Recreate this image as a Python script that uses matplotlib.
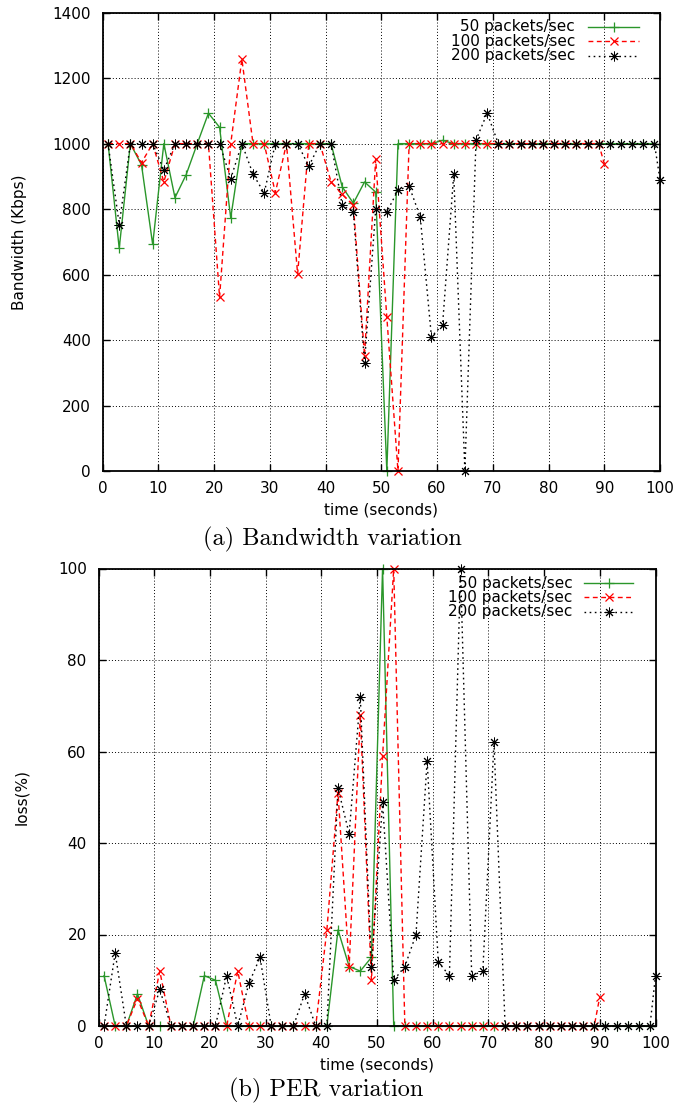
import matplotlib
matplotlib.use("Agg")
import matplotlib.pyplot as plt
from matplotlib.lines import Line2D

# ---------------- data ----------------
t_odd = list(range(1, 100, 2))            # 1,3,...,99
t_red = list(range(1, 90, 2)) + [90]      # 1,3,...,89,90
t_blk = list(range(1, 100, 2)) + [100]    # 1,3,...,99,100

labels = ["50 packets/sec", "100 packets/sec", "200 packets/sec"]

# Bandwidth (Kbps)
bw_50 = [1000, 680, 1000, 935, 692, 1000, 835, 905, 1000, 1093,
         1050, 773, 1000, 1000, 1000, 1000, 1000, 1000, 1000, 1000,
         1000, 868, 818, 883, 852, 0, 1000, 1000, 1000, 1000,
         1010, 1000, 1000, 1000, 1000, 1000, 1000, 1000, 1000, 1000,
         1000, 1000, 1000, 1000, 1000, 1000, 1000, 1000, 1000, 1000]
bw_100 = [1000, 1000, 1000, 942, 1000, 883, 1000, 1000, 1000, 1000,
          531, 1000, 1258, 1000, 1000, 850, 1000, 602, 1000, 1000,
          883, 845, 812, 352, 952, 470, 0, 1000, 1000, 1000,
          1000, 1000, 1000, 1000, 1000, 1000, 1000, 1000, 1000, 1000,
          1000, 1000, 1000, 1000, 1000, 939]
bw_200 = [1000, 753, 1000, 1000, 1000, 919, 1000, 1000, 1000, 1000,
          1000, 893, 1000, 907, 849, 1000, 1000, 1000, 931, 1000,
          1000, 812, 791, 330, 799, 791, 858, 870, 776, 410,
          447, 907, 0, 1011, 1093, 1000, 1000, 1000, 1000, 1000,
          1000, 1000, 1000, 1000, 1000, 1000, 1000, 1000, 1000, 1000, 890]

# Packet error rate (%)
per_50 = [11, 0, 0, 7, 0, 0, 0, 0, 0, 11,
          10, 0, 0, 0, 0, 0, 0, 0, 0, 0,
          0, 21, 13, 12, 15, 100, 0, 0, 0, 0,
          0, 0, 0, 0, 0, 0, 0, 0, 0, 0,
          0, 0, 0, 0, 0, 0, 0, 0, 0, 0]
per_100 = [0, 0, 0, 6, 0, 12, 0, 0, 0, 0,
           0, 0, 12, 0, 0, 0, 0, 0, 0, 0,
           21, 51, 13, 68, 10, 59, 100, 0, 0, 0,
           0, 0, 0, 0, 0, 0, 0, 0, 0, 0,
           0, 0, 0, 0, 0, 6.4]
per_200 = [0, 16, 0, 0, 0, 8, 0, 0, 0, 0,
           0, 11, 0, 9.3, 15, 0, 0, 0, 7, 0,
           0, 52, 42, 72, 13, 49, 10, 13, 20, 58,
           14, 11, 100, 11, 12, 62, 0, 0, 0, 0,
           0, 0, 0, 0, 0, 0, 0, 0, 0, 0, 11]

x_ticks = list(range(0, 101, 10))
bw_ticks = list(range(0, 1401, 200))
per_ticks = list(range(0, 101, 20))

# ---------------- styling ----------------
W, H = 678, 1106
fig = plt.figure(figsize=(W / 100, H / 100), dpi=100)
SANS = "DejaVu Sans"
FS = 11

GREEN = "#2a962a"
RED = "#ff0000"
BLACK = "#000000"
styles = [
    dict(color=GREEN, linestyle="-", lw=1.0, marker="+", ms=7, mew=0.9),
    dict(color=RED, linestyle=(0, (3.5, 2.5)), lw=1.0, marker="x", ms=6, mew=0.9),
    dict(color=BLACK, linestyle=(0, (1.2, 2.5)), lw=1.0, marker=(8, 2, 0), ms=7, mew=0.7),
]


def fx(px):
    return px / W


def fy(py):
    return 1 - py / H


def setup_axes(ax, yticks, ylim):
    ax.set_xlim(0, 100)
    ax.set_ylim(*ylim)
    ax.set_xticks(x_ticks)
    ax.set_yticks(yticks)
    ax.tick_params(direction="in", length=5, width=1.0, top=True, right=True,
                   labelsize=FS)
    ax.tick_params(axis="x", pad=7)
    ax.tick_params(axis="y", pad=8.5)
    for lab in ax.get_xticklabels() + ax.get_yticklabels():
        lab.set_fontfamily(SANS)
    for s in ax.spines.values():
        s.set_linewidth(1.3)
    ax.grid(True, color="black", linestyle=(0, (1, 2.2)), lw=0.7)
    ax.set_axisbelow(True)


def legend(x_text, ys, x0, x1):
    for lab, st, y in zip(labels, styles, ys):
        fig.text(fx(x_text), fy(y), lab, ha="right", va="center",
                 fontsize=FS, family=SANS)
        fig.add_artist(Line2D([fx(x0), fx(x1)], [fy(y), fy(y)],
                              transform=fig.transFigure, color=st["color"],
                              linestyle=st["linestyle"], lw=st["lw"]))
        fig.add_artist(Line2D([fx((x0 + x1) / 2)], [fy(y)],
                              transform=fig.transFigure, color=st["color"],
                              linestyle="none", marker=st["marker"],
                              ms=st["ms"], mew=st["mew"]))


# ---------------- top: bandwidth ----------------
ax1 = fig.add_axes([fx(102.5), fy(471), fx(660) - fx(102.5), fy(12.7) - fy(471)])
setup_axes(ax1, bw_ticks, (0, 1400))
for t, v, st in zip([t_odd, t_red, t_blk], [bw_50, bw_100, bw_200], styles):
    ax1.plot(t, v, clip_on=False, **st)
ax1.set_xlabel("time (seconds)", fontsize=FS, family=SANS, labelpad=5)
fig.text(fx(20), (fy(471) + fy(12.7)) / 2, "Bandwidth (Kbps)", rotation=90,
         ha="center", va="center", fontsize=FS, family=SANS)
legend(575, [26.7, 41.2, 55.5], 588, 639)
fig.text(fx(332), fy(539), "(a) Bandwidth variation", ha="center", va="center",
         fontsize=17.5, family="cmr10")

# ---------------- bottom: PER ----------------
ax2 = fig.add_axes([fx(98.5), fy(1026), fx(655.5) - fx(98.5), fy(568.5) - fy(1026)])
setup_axes(ax2, per_ticks, (0, 100))
for t, v, st in zip([t_odd, t_red, t_blk], [per_50, per_100, per_200], styles):
    ax2.plot(t, v, clip_on=False, **st)
ax2.set_xlabel("time (seconds)", fontsize=FS, family=SANS, labelpad=5)
fig.text(fx(22), (fy(1026) + fy(568.5)) / 2, "loss(%)", rotation=90,
         ha="center", va="center", fontsize=FS, family=SANS)
legend(572.7, [583.3, 597.3, 611.7], 584, 633)
fig.text(fx(326), fy(1090), "(b) PER variation", ha="center", va="center",
         fontsize=17.5, family="cmr10")

fig.savefig("out.png", dpi=100)
